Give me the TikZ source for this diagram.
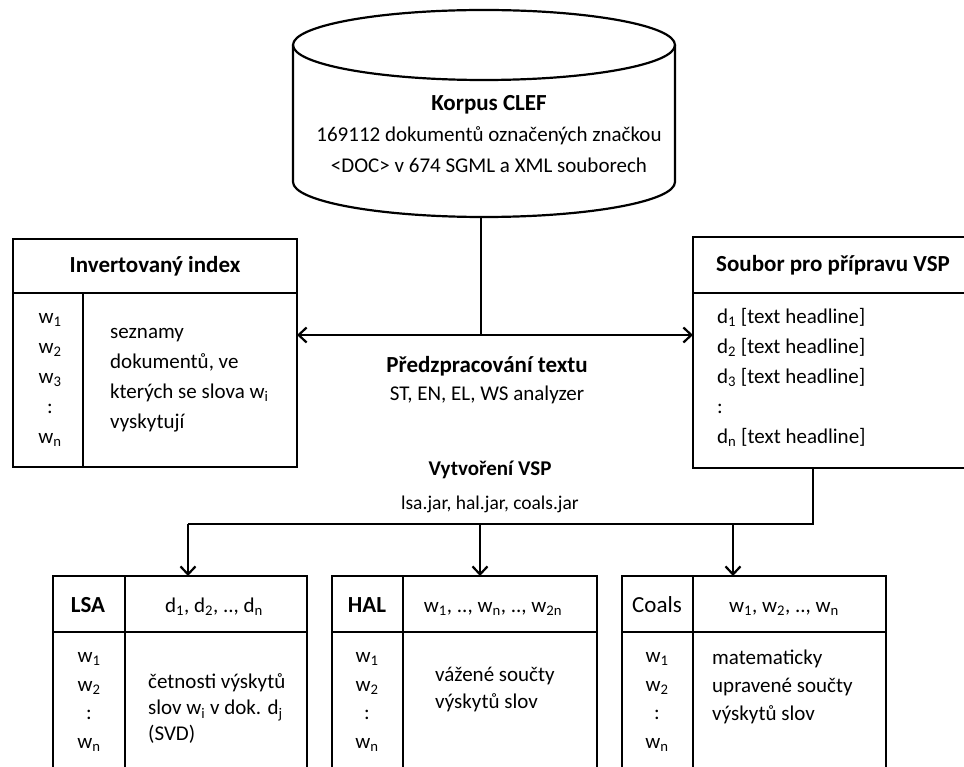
\documentclass[tikz,border=0pt]{standalone}
\usepackage{fontspec}
\setmainfont{Carlito}
\usetikzlibrary{arrows.meta,positioning}

\newcommand{\wsub}[1]{w\textsubscript{#1}}
\newcommand{\dsub}[1]{d\textsubscript{#1}}
\newcommand{\hdr}[1]{{\fontsize{23}{30}\selectfont\bfseries #1}}

\tikzset{
  frame/.style={draw,line width=2.2pt,inner sep=0pt,outer sep=0pt},
  line/.style={line width=2.2pt},
  arr/.style={line width=2.2pt,-{Straight Barb[length=8pt,width=15pt]}},
  lbl/.style={inner sep=0pt,align=center},
  txt/.style={inner sep=0pt,align=left,anchor=west}
}

\begin{document}
\begin{tikzpicture}[x=1pt,y=-1pt,font=\fontsize{21}{30}\selectfont]
  \useasboundingbox (0,0) rectangle (964,767);
  \clip (0,0) rectangle (964,767);

  % korpus (cylinder)
  \draw[line] (293,45) -- (293,182) arc[start angle=180,end angle=0,x radius=191,y radius=35] -- (675,45);
  \draw[line] (484,45) ellipse[x radius=191,y radius=35];
  \node[lbl,font=\fontsize{21}{31}\selectfont] (korpus) at (489,134) {\hdr{Korpus CLEF}\\169112 dokumentů označených značkou\\<DOC> v 674 SGML a XML souborech};
  \coordinate (korpusbot) at (481,217);
  \coordinate (split) at (481,335);

  % invertovany index
  \node[frame,minimum width=284pt,minimum height=54pt] (invhead) at (155,266) {\hdr{Invertovaný index}};
  \node[frame,minimum width=284pt,minimum height=174pt,below=0pt of invhead] (invbody) {};
  \draw[line] (83,293) -- (83,467);
  \node[lbl] (invw) at (50,380) {\wsub1\\\wsub2\\\wsub3\\:\\\wsub{n}};
  \node[txt] (invtext) at (110,380) {seznamy\\dokumentů, ve\\kterých se slova \wsub{i}\\vyskytují};

  % soubor pro VSP
  \node[frame,minimum width=280pt,minimum height=56pt] (shead) at (833,265) {\hdr{Soubor pro přípravu VSP}};
  \node[frame,minimum width=280pt,minimum height=175pt,below=0pt of shead] (sbody) {};
  \node[txt] (sdocs) at (717,377) {\dsub1 [text headline]\\\dsub2 [text headline]\\\dsub3 [text headline]\\:\\\dsub{n} [text headline]};

  % popisky uprostred
  \node[lbl,font=\fontsize{21}{28}\selectfont] (predz) at (487,380) {\hdr{Předzpracování textu}\\ST, EN, EL, WS analyzer};
  \node[lbl,font=\fontsize{19.5}{34}\selectfont] (vytv) at (490,487) {{\fontsize{21}{30}\selectfont\bfseries Vytvoření VSP}\\lsa.jar, hal.jar, coals.jar};

  % LSA
  \node[frame,minimum width=254pt,minimum height=56pt] (lsahead) at (180,604) {};
  \node[frame,minimum width=254pt,minimum height=200pt,below=0pt of lsahead] (lsabody) {};
  \draw[line] (125,576) -- (125,800);
  \node[lbl] (lsaname) at (88,605) {\hdr{LSA}};
  \node[lbl] (lsacols) at (214,607) {\dsub1, \dsub2, .., \dsub{n}};
  \node[lbl,font=\fontsize{21}{28.5}\selectfont] (lsaw) at (89,702) {\wsub1\\\wsub2\\:\\\wsub{n}};
  \node[txt,font=\fontsize{21}{26}\selectfont] (lsatext) at (148,709) {četnosti výskytů\\slov \wsub{i} v dok. \dsub{j}\\(SVD)};

  % HAL
  \node[frame,minimum width=265pt,minimum height=56pt] (halhead) at (464.5,604) {};
  \node[frame,minimum width=265pt,minimum height=200pt,below=0pt of halhead] (halbody) {};
  \draw[line] (403,576) -- (403,800);
  \node[lbl] (halname) at (367,605) {\hdr{HAL}};
  \node[lbl] (halcols) at (493,609) {\wsub1, .., \wsub{n}, .., \wsub{2n}};
  \node[lbl,font=\fontsize{21}{28.5}\selectfont] (halw) at (367,702) {\wsub1\\\wsub2\\:\\\wsub{n}};
  \node[txt,font=\fontsize{21}{27}\selectfont] (haltext) at (435,690) {vážené součty\\výskytů slov};

  % Coals
  \node[frame,minimum width=264pt,minimum height=56pt] (coalshead) at (754,604) {};
  \node[frame,minimum width=264pt,minimum height=200pt,below=0pt of coalshead] (coalsbody) {};
  \draw[line] (693,576) -- (693,800);
  \node[lbl,font=\fontsize{23}{30}\selectfont] (coalsname) at (657,605) {Coals};
  \node[lbl] (coalscols) at (784,609) {\wsub1, \wsub2, .., \wsub{n}};
  \node[lbl,font=\fontsize{21}{28.5}\selectfont] (coalsw) at (657,702) {\wsub1\\\wsub2\\:\\\wsub{n}};
  \node[txt,font=\fontsize{21}{28}\selectfont] (coalstext) at (712,687) {matematicky\\upravené součty\\výskytů slov};

  % spojnice
  \draw[line] (korpusbot) -- (split);
  \draw[line,{Straight Barb[length=8pt,width=15pt]}-{Straight Barb[length=8pt,width=15pt]}] (invbody.east |- split) -- (sbody.west |- split);
  \coordinate (fork) at (813,524);
  \coordinate (blsa) at (188,524);
  \coordinate (bhal) at (480,524);
  \coordinate (bcoals) at (733,524);
  \draw[line] (sbody.south -| fork) -- (fork) -- (blsa);
  \draw[arr] (blsa) -- (blsa |- lsahead.north);
  \draw[arr] (bhal) -- (bhal |- halhead.north);
  \draw[arr] (bcoals) -- (bcoals |- coalshead.north);
\end{tikzpicture}
\end{document}
